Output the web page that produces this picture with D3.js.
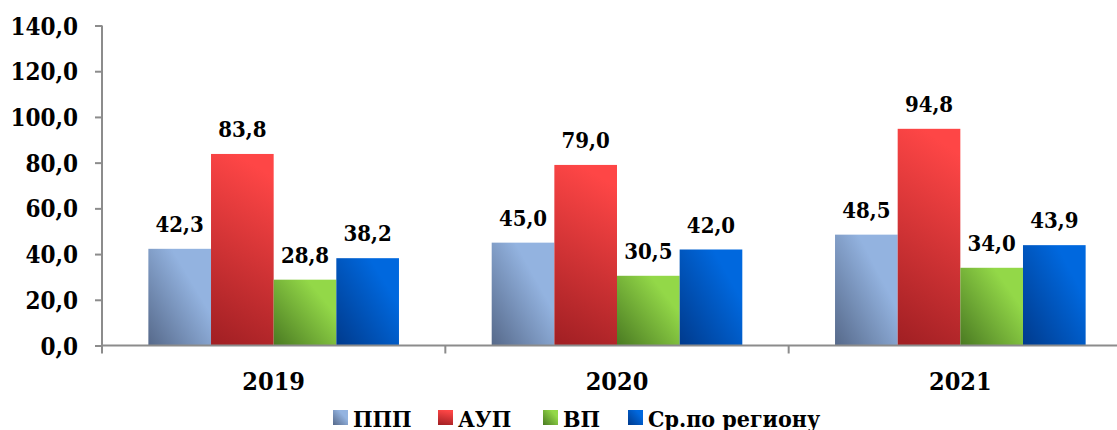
<!DOCTYPE html>
<html>
<head>
<meta charset="utf-8">
<script src="https://cdn.jsdelivr.net/npm/d3@7"></script>
<style>
	body { margin: 0; background: #fff; }
	svg text { font-family: "DejaVu Serif", serif; font-stretch: condensed; font-weight: bold; fill: #000; }
</style>
</head>
<body>
<div id="plot"></div>
<script>
var years = ["2019", "2020", "2021"];
var seriesNames = ["ППП", "АУП", "ВП", "Ср.по региону"];
var ppp = [42.3, 45.0, 48.5];
var aup = [83.8, 79.0, 94.8];
var vp = [28.8, 30.5, 34.0];
var region = [38.2, 42.0, 43.9];
var yTicks = [0, 20, 40, 60, 80, 100, 120, 140];

var series = [ppp, aup, vp, region];
var colors = [
	{dark: "#56698a", light: "#93b3e0", dir: [0, 1, 0.7, 0.35]},
	{dark: "#a32024", light: "#fe4646", dir: [0.2, 1, 0.4, 0]},
	{dark: "#4a7a22", light: "#93d848", dir: [0, 1, 0.8, 0.3]},
	{dark: "#003a8c", light: "#0068de", dir: [0, 1, 0.8, 0.3]}
];

var width = 1117, height = 430;
var svg = d3.select("#plot").append("svg")
	.attr("width", width)
	.attr("height", height);

var defs = svg.append("defs");
colors.forEach(function(c, i){
	var g = defs.append("linearGradient")
		.attr("id", "grad" + i)
		.attr("x1", c.dir[0]).attr("y1", c.dir[1])
		.attr("x2", c.dir[2]).attr("y2", c.dir[3]);
	g.append("stop").attr("offset", "0%").attr("stop-color", c.dark);
	g.append("stop").attr("offset", "100%").attr("stop-color", c.light);
});

// plot area runs past the right edge, as in the original
var x0 = d3.scaleBand().domain(years).range([102, 1132]);
var x1 = d3.scaleBand().domain(d3.range(series.length))
	.range([0, x0.bandwidth()]).paddingOuter(0.74).paddingInner(0);
var y = d3.scaleLinear().domain([0, 140]).range([345.5, 25.5]);

var axisColor = "#8c8c8c";

// y axis
var yAxis = svg.append("g").attr("transform", "translate(102,0)")
	.call(d3.axisLeft(y).tickValues(yTicks).tickSize(7).tickPadding(17)
		.tickFormat(function(d){ return d.toFixed(1).replace(".", ","); }));
yAxis.attr("font-family", null).attr("font-size", null);
yAxis.select(".domain").remove();
yAxis.selectAll("line").attr("stroke", axisColor).attr("stroke-width", 2);
yAxis.selectAll("text").style("font-size", "24px").attr("dy", "0.36em");
svg.append("line")
	.attr("x1", 102).attr("x2", 102)
	.attr("y1", y(140)).attr("y2", y(0) + 8)
	.attr("stroke", axisColor).attr("stroke-width", 2);

// bars
var groups = svg.selectAll(".year").data(years).enter().append("g")
	.attr("class", "year")
	.attr("transform", function(d){ return "translate(" + x0(d) + ",0)"; });

groups.each(function(yr, yi){
	var g = d3.select(this);
	series.forEach(function(s, si){
		g.append("rect")
			.attr("x", x1(si))
			.attr("width", x1.bandwidth())
			.attr("y", y(s[yi]))
			.attr("height", y(0) - y(s[yi]))
			.attr("fill", "url(#grad" + si + ")");
		g.append("text")
			.attr("x", x1(si) + x1.bandwidth() / 2)
			.attr("y", y(s[yi]) - 17)
			.attr("text-anchor", "middle")
			.style("font-size", "22px")
			.text(s[yi].toFixed(1).replace(".", ","));
	});
});

// x axis
svg.append("line")
	.attr("x1", 102).attr("x2", width)
	.attr("y1", y(0)).attr("y2", y(0))
	.attr("stroke", axisColor).attr("stroke-width", 2);
years.forEach(function(yr, i){
	if (i > 0) {
		svg.append("line")
			.attr("x1", x0(yr)).attr("x2", x0(yr))
			.attr("y1", y(0)).attr("y2", y(0) + 8)
			.attr("stroke", axisColor).attr("stroke-width", 2);
	}
	svg.append("text")
		.attr("x", x0(yr) + x0.bandwidth() / 2)
		.attr("y", 390)
		.attr("text-anchor", "middle")
		.style("font-size", "25px")
		.text(yr);
});

// legend
var legendX = [333, 438, 543, 628];
seriesNames.forEach(function(name, i){
	svg.append("rect")
		.attr("x", legendX[i]).attr("y", 410)
		.attr("width", 15).attr("height", 15)
		.attr("fill", "url(#grad" + i + ")");
	svg.append("text")
		.attr("x", legendX[i] + 20)
		.attr("y", 427)
		.style("font-size", "23px")
		.text(name);
});
</script>
</body>
</html>
